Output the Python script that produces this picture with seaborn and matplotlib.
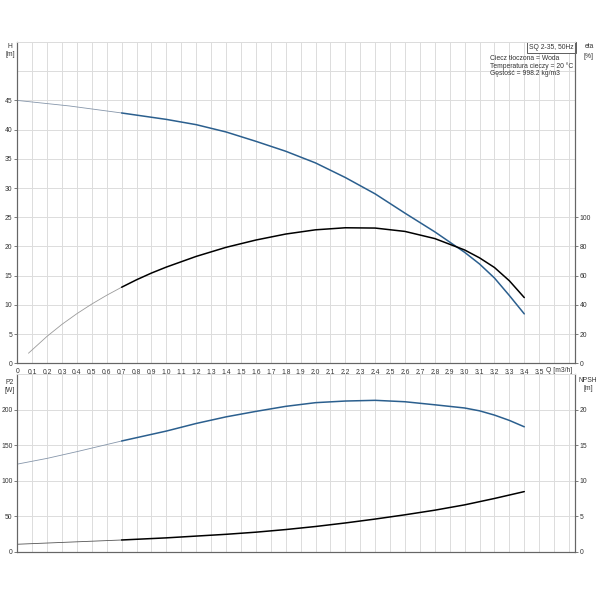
import matplotlib
matplotlib.use("Agg")
import matplotlib.pyplot as plt
import seaborn as sns
import pandas as pd
import numpy as np

# dane (Q w m3/h)
q_h = [0, 0.35, 0.7, 1.0, 1.2, 1.4, 1.6, 1.8, 2.0, 2.2, 2.4, 2.6, 2.8, 3.0, 3.1, 3.2, 3.3, 3.4]
h_vals = [45, 44.05, 42.85, 41.75, 40.85, 39.6, 38.0, 36.3, 34.3, 31.8, 29.0, 25.7, 22.5, 19.0,
          17.0, 14.6, 11.6, 8.46]

q_eta = [0.075, 0.2, 0.3, 0.4, 0.5, 0.6, 0.7, 0.8, 0.9, 1.0, 1.2, 1.4, 1.6, 1.8, 2.0,
         2.2, 2.4, 2.6, 2.8, 3.0, 3.1, 3.2, 3.3, 3.4]
eta_vals = [6.9, 18.5, 26.7, 34.0, 40.6, 46.6, 52.1, 57.2, 61.8, 65.9, 73.2, 79.4, 84.4, 88.5,
            91.4, 92.8, 92.6, 90.3, 85.4, 77.6, 72.2, 65.6, 56.5, 45.0]

q_p2 = [0, 0.2, 0.4, 0.6, 0.7, 1.0, 1.2, 1.4, 1.6, 1.8, 2.0, 2.2, 2.4, 2.6, 2.8, 3.0, 3.1, 3.2,
        3.3, 3.4]
p2_vals = [123.4, 131.5, 141, 151, 156, 170, 180.7, 190, 197.7, 204.8, 210, 212.3, 213.3, 211.3,
           207, 202.5, 198.5, 192.5, 185, 176]

q_npsh = [0, 0.35, 0.7, 1.0, 1.2, 1.4, 1.6, 1.8, 2.0, 2.2, 2.4, 2.6, 2.8, 3.0, 3.2, 3.4]
npsh_vals = [1.05, 1.35, 1.65, 1.95, 2.2, 2.45, 2.75, 3.12, 3.55, 4.05, 4.6, 5.2, 5.85, 6.6, 7.5, 8.47]

q_labels = [0, 0.1, 0.2, 0.3, 0.4, 0.5, 0.6, 0.7, 0.8, 0.9, 1.0, 1.1, 1.2, 1.3, 1.4, 1.5, 1.6, 1.7,
            1.8, 1.9, 2.0, 2.1, 2.2, 2.3, 2.4, 2.5, 2.6, 2.7, 2.8, 2.9, 3.0, 3.1, 3.2, 3.3, 3.4, 3.5]
q_split = 0.7  # do tego punktu linia cienka (poza zakresem pracy)

sns.set_style("white")
plt.rcParams["font.family"] = ["Liberation Sans", "DejaVu Sans"]

FS = 4.85
TXT = "#333333"
GRID = "#dcdcdc"
SPINE = "#666666"
BLUE = "#2b5f8e"
BLUE_THIN = "#8696aa"
BLACK_THIN = "#9a9a9a"

fig = plt.figure(figsize=(6, 6), dpi=100)
ax_h = fig.add_axes([0.0288, 0.3945, 0.9295, 0.5355])
ax_p = fig.add_axes([0.0288, 0.0805, 0.9295, 0.2957])
ax_eta = ax_h.twinx()
ax_npsh = ax_p.twinx()


def draw(ax, q, vals, col_thin, col_thick, thin_lw=0.6):
    df = pd.DataFrame({"Q": q, "v": vals})
    thin = df[df["Q"] <= q_split]
    thick = df[df["Q"] >= q_split]
    sns.lineplot(data=thin, x="Q", y="v", ax=ax, color=col_thin, linewidth=thin_lw)
    sns.lineplot(data=thick, x="Q", y="v", ax=ax, color=col_thick, linewidth=1.1)
    ax.set_xlabel("")
    ax.set_ylabel("")


draw(ax_h, q_h, h_vals, BLUE_THIN, BLUE)
draw(ax_eta, q_eta, eta_vals, BLACK_THIN, "black")
draw(ax_p, q_p2, p2_vals, BLUE_THIN, BLUE)
draw(ax_npsh, q_npsh, npsh_vals, "#555555", "black")

grid_q = np.arange(0, 3.75, 0.1)
for ax in (ax_h, ax_p, ax_eta, ax_npsh):
    ax.set_xlim(0, 3.74)
    ax.set_xticks(q_labels)
    ax.set_xticks(grid_q, minor=True)
    ax.tick_params(axis="both", which="major", labelsize=FS, length=2.5, width=0.6,
                   color=SPINE, labelcolor=TXT, pad=1)
    ax.tick_params(axis="both", which="minor", length=0)
    for s in ("left", "right", "bottom"):
        ax.spines[s].set_color(SPINE)
        ax.spines[s].set_linewidth(0.8)
    ax.spines["top"].set_color(GRID)
    ax.spines["top"].set_linewidth(0.7)

# oś górna: H i eta
ax_h.set_ylim(0, 55)
ax_h.set_yticks([0, 5, 10, 15, 20, 25, 30, 35, 40, 45])
ax_h.set_yticks(np.arange(0, 56, 5), minor=True)
ax_h.set_xticklabels(["0" if v == 0 else f"{v:.1f}".replace(".", ",") for v in q_labels])
ax_h.grid(True, which="both", color=GRID, linewidth=0.7)
ax_h.set_axisbelow(True)
ax_eta.set_ylim(0, 220)
ax_eta.set_yticks([0, 20, 40, 60, 80, 100])
ax_eta.grid(False)

# oś dolna: P2 i NPSH
ax_p.set_ylim(0, 250)
ax_p.set_yticks([0, 50, 100, 150, 200])
ax_p.set_yticks(np.arange(0, 251, 50), minor=True)
ax_p.set_xticklabels([])
ax_p.grid(True, which="both", color=GRID, linewidth=0.7)
ax_p.set_axisbelow(True)
ax_npsh.set_ylim(0, 25)
ax_npsh.set_yticks([0, 5, 10, 15, 20])
ax_npsh.grid(False)
ax_npsh.set_xticklabels([])

# opisy osi
kw = dict(fontsize=FS, color=TXT, ha="center", va="center")
fig.text(10 / 600, 1 - 46 / 600, "H", **kw)
fig.text(10 / 600, 1 - 55 / 600, "[m]", **kw)
fig.text(589 / 600, 1 - 47 / 600, "eta", **kw)
fig.text(589 / 600, 1 - 56 / 600, "[%]", **kw)
fig.text(10 / 600, 1 - 382 / 600, "P2", **kw)
fig.text(10 / 600, 1 - 391 / 600, "[W]", **kw)
fig.text(588 / 600, 1 - 380 / 600, "NPSH", **kw)
fig.text(588 / 600, 1 - 389 / 600, "[m]", **kw)
fig.text(546 / 600, 1 - 370 / 600, "Q [m3/h]", fontsize=FS, color=TXT, ha="left", va="center")

# ramka z nazwą pompy i warunkami
ax_h.text(0.998, 0.994, "SQ 2-35, 50Hz", transform=ax_h.transAxes, fontsize=FS, color=TXT,
          ha="right", va="top",
          bbox=dict(boxstyle="square,pad=0.3", fc="white", ec="#444444", lw=0.6))
info = ["Ciecz tłoczona = Woda", "Temperatura cieczy = 20 °C", "Gęstość = 998.2 kg/m3"]
for i, line in enumerate(info):
    fig.text(490 / 600, 1 - (59 + 7.3 * i) / 600, line, fontsize=FS, color=TXT,
             ha="left", va="center")

fig.savefig("out.png", dpi=100, facecolor="white")
